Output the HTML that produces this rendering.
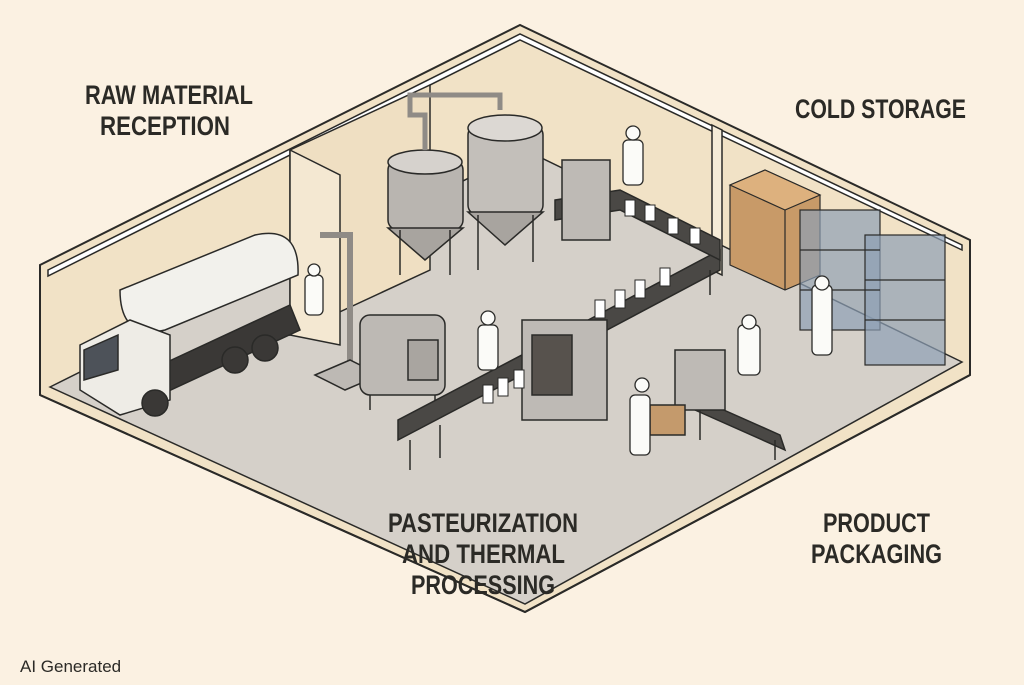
<!DOCTYPE html>
<html><head><meta charset="utf-8"><style>
html,body{margin:0;padding:0;background:#fbf1e2;}
svg{display:block}
text{font-family:"Liberation Sans",sans-serif;font-weight:bold;fill:#2b2a26}
</style></head><body>
<svg width="1024" height="685" viewBox="0 0 1024 685">
<rect width="1024" height="685" fill="#fbf1e2"/>
<polygon points="40,265 520,25 970,240 970,375 525,612 40,395" fill="#f1e2c6" stroke="#2a2a28" stroke-width="2"/>
<polygon points="48,270 520,34 962,245 962,250 520,40 48,276" fill="#fff" stroke="#2a2a28" stroke-width="1.5"/>
<polygon points="50,387 525,150 962,362 525,604" fill="#d5d0c9" stroke="#2a2a28" stroke-width="1.5"/>
<line x1="40" y1="395" x2="525" y2="612" stroke="#2a2a28" stroke-width="2"/>
<line x1="525" y1="612" x2="970" y2="375" stroke="#2a2a28" stroke-width="2"/>
<polygon points="290,150 430,85 430,270 290,335" fill="#efdfc2" stroke="#2a2a28" stroke-width="1.5"/>
<polygon points="290,150 340,175 340,345 290,335" fill="#f4e8d2" stroke="#2a2a28" stroke-width="1.5"/>
<polygon points="712,125 722,130 722,275 712,270" fill="#f6ecd8" stroke="#2a2a28" stroke-width="1.5"/>
<g stroke="#2a2a28" stroke-width="1.5">
<rect x="388" y="160" width="75" height="70" rx="10" fill="#b9b5b0"/>
<ellipse cx="425" cy="162" rx="37" ry="12" fill="#d6d2cd"/>
<polygon points="388,228 463,228 425,260" fill="#a8a49f"/>
<line x1="400" y1="230" x2="400" y2="275"/><line x1="450" y1="230" x2="450" y2="275"/>
<rect x="468" y="125" width="75" height="90" rx="10" fill="#c3bfba"/>
<ellipse cx="505" cy="128" rx="37" ry="13" fill="#dcd8d3"/>
<polygon points="468,212 543,212 505,245" fill="#a8a49f"/>
<line x1="478" y1="215" x2="478" y2="270"/><line x1="533" y1="215" x2="533" y2="262"/>
<path d="M425 150 V115 H410 V95 H500 V110" fill="none" stroke="#8f8b86" stroke-width="5"/>
<path d="M350 370 V235 H320" fill="none" stroke="#8f8b86" stroke-width="6"/>
</g>
<g stroke="#2a2a28" stroke-width="1.5">
<polygon points="315,375 350,360 380,375 345,390" fill="#bdb9b4"/>
<rect x="360" y="315" width="85" height="80" rx="10" fill="#bdb9b4"/>
<rect x="408" y="340" width="30" height="40" fill="#a9a5a0"/>
<line x1="370" y1="395" x2="370" y2="410"/><line x1="435" y1="395" x2="435" y2="420"/>
</g>
<g stroke="#2a2a28" stroke-width="1.5">
<polygon points="398,440 560,355 720,270 720,250 560,335 398,420" fill="#4a4845"/>
<polygon points="555,200 620,190 720,240 720,260 620,210 555,220" fill="#4a4845"/>
<line x1="410" y1="440" x2="410" y2="470"/><line x1="440" y1="425" x2="440" y2="458"/>
<line x1="560" y1="355" x2="560" y2="385"/><line x1="710" y1="270" x2="710" y2="295"/>
<rect x="522" y="320" width="85" height="100" fill="#bebab5"/>
<rect x="532" y="335" width="40" height="60" fill="#57524d"/>
<rect x="562" y="160" width="48" height="80" fill="#bebab5"/>
</g>
<g fill="#fff" stroke="#2a2a28" stroke-width="1">
<rect x="483" y="385" width="10" height="18"/><rect x="498" y="378" width="10" height="18"/><rect x="514" y="370" width="10" height="18"/>
<rect x="595" y="300" width="10" height="18"/><rect x="615" y="290" width="10" height="18"/><rect x="635" y="280" width="10" height="18"/><rect x="660" y="268" width="10" height="18"/>
<rect x="625" y="200" width="10" height="16"/><rect x="645" y="205" width="10" height="16"/><rect x="668" y="218" width="10" height="16"/><rect x="690" y="228" width="10" height="16"/>
</g>
<g stroke="#2a2a28" stroke-width="1.5">
<polygon points="150,370 290,305 300,330 160,395" fill="#3a3836"/>
<path d="M120,290 L255,235 Q300,225 298,275 L165,330 Q120,340 120,290Z" fill="#f2f1ec"/>
<polygon points="80,345 130,320 170,335 170,400 120,415 80,390" fill="#eeece6"/>
<polygon points="84,350 118,335 118,370 84,380" fill="#4d5259"/>
<circle cx="155" cy="403" r="13" fill="#3a3836"/><circle cx="235" cy="360" r="13" fill="#3a3836"/><circle cx="265" cy="348" r="13" fill="#3a3836"/>
</g>
<g stroke="#2a2a28" stroke-width="1.5">
<polygon points="690,395 780,435 785,450 695,410" fill="#4a4845"/>
<rect x="675" y="350" width="50" height="60" fill="#bebab5"/>
<rect x="650" y="405" width="35" height="30" fill="#c49a6c"/>
<line x1="700" y1="410" x2="700" y2="440"/><line x1="775" y1="440" x2="775" y2="460"/>
</g>
<g stroke="#2a2a28" stroke-width="1.2">
<polygon points="730,185 765,170 820,195 820,275 785,290 730,265" fill="#c89a68"/>
<polygon points="730,185 765,170 820,195 785,210" fill="#ddb17e"/>
<line x1="785" y1="210" x2="785" y2="290"/>
<rect x="800" y="210" width="80" height="120" fill="#8d9fb5" fill-opacity="0.7"/>
<rect x="865" y="235" width="80" height="130" fill="#8d9fb5" fill-opacity="0.7"/>
<line x1="800" y1="250" x2="880" y2="250"/><line x1="800" y1="290" x2="880" y2="290"/>
<line x1="865" y1="280" x2="945" y2="280"/><line x1="865" y1="320" x2="945" y2="320"/>
</g>
<g fill="#fbfbf8" stroke="#2a2a28" stroke-width="1.3">
<rect x="305" y="275" width="18" height="40" rx="5"/><circle cx="314" cy="270" r="6"/>
<rect x="478" y="325" width="20" height="45" rx="5"/><circle cx="488" cy="318" r="7"/>
<rect x="623" y="140" width="20" height="45" rx="5"/><circle cx="633" cy="133" r="7"/>
<rect x="738" y="325" width="22" height="50" rx="5"/><circle cx="749" cy="322" r="7"/>
<rect x="630" y="395" width="20" height="60" rx="5"/><circle cx="642" cy="385" r="7"/>
<rect x="812" y="285" width="20" height="70" rx="5"/><circle cx="822" cy="283" r="7"/>
</g>
<g font-size="27">
<text x="85" y="104" textLength="168" lengthAdjust="spacingAndGlyphs">RAW MATERIAL</text>
<text x="100" y="135" textLength="130" lengthAdjust="spacingAndGlyphs">RECEPTION</text>
<text x="795" y="118" textLength="171" lengthAdjust="spacingAndGlyphs">COLD STORAGE</text>
<text x="388" y="532" textLength="190" lengthAdjust="spacingAndGlyphs">PASTEURIZATION</text>
<text x="402" y="563" textLength="163" lengthAdjust="spacingAndGlyphs">AND THERMAL</text>
<text x="411" y="594" textLength="144" lengthAdjust="spacingAndGlyphs">PROCESSING</text>
<text x="823" y="532" textLength="107" lengthAdjust="spacingAndGlyphs">PRODUCT</text>
<text x="811" y="563" textLength="131" lengthAdjust="spacingAndGlyphs">PACKAGING</text>
</g>
<text x="20" y="672" font-size="17" style="font-weight:normal">AI Generated</text>
</svg>
</body></html>
